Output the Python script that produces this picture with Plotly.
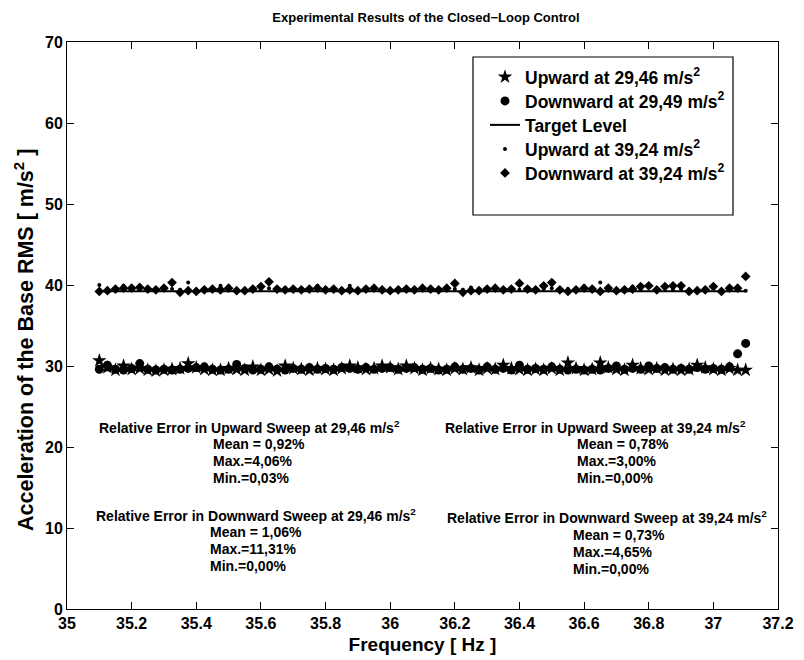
import plotly.graph_objects as go

# ---------------- data ----------------
freq = [35.100, 35.125, 35.150, 35.175, 35.200, 35.225, 35.250, 35.275, 35.300, 35.325,
        35.350, 35.375, 35.400, 35.425, 35.450, 35.475, 35.500, 35.525, 35.550, 35.575,
        35.600, 35.625, 35.650, 35.675, 35.700, 35.725, 35.750, 35.775, 35.800, 35.825,
        35.850, 35.875, 35.900, 35.925, 35.950, 35.975, 36.000, 36.025, 36.050, 36.075,
        36.100, 36.125, 36.150, 36.175, 36.200, 36.225, 36.250, 36.275, 36.300, 36.325,
        36.350, 36.375, 36.400, 36.425, 36.450, 36.475, 36.500, 36.525, 36.550, 36.575,
        36.600, 36.625, 36.650, 36.675, 36.700, 36.725, 36.750, 36.775, 36.800, 36.825,
        36.850, 36.875, 36.900, 36.925, 36.950, 36.975, 37.000, 37.025, 37.050, 37.075,
        37.100]

up_2946 = [30.66, 29.8, 29.5, 30.0, 29.6, 29.7, 29.5, 29.4, 29.5, 29.6,
           29.7, 30.3, 29.8, 29.6, 29.5, 29.5, 29.7, 29.6, 29.5, 29.9,
           29.5, 29.6, 29.4, 30.0, 29.7, 29.6, 29.5, 29.7, 29.6, 29.5,
           29.7, 30.0, 29.8, 29.6, 29.7, 30.0, 29.8, 29.6, 30.0, 29.7,
           29.5, 29.7, 29.6, 29.5, 29.7, 29.6, 29.8, 29.5, 29.7, 29.6,
           30.1, 29.7, 29.6, 29.5, 29.6, 29.5, 29.7, 29.5, 30.4, 29.7,
           29.5, 29.6, 30.4, 29.8, 29.6, 29.5, 30.1, 29.7, 29.6, 29.7,
           29.5, 29.6, 29.5, 29.6, 30.1, 29.8, 29.6, 29.5, 29.7, 29.5,
           29.5]

down_2949 = [29.6, 30.1, 29.6, 29.5, 29.7, 30.3, 29.6, 29.5, 29.6, 29.5,
             29.6, 29.7, 29.8, 29.9, 29.6, 29.5, 29.6, 30.2, 29.7, 29.5,
             29.6, 29.9, 29.6, 29.5, 29.7, 29.6, 29.8, 29.6, 29.7, 29.6,
             29.8, 29.7, 29.6, 29.8, 29.6, 29.7, 29.8, 29.6, 29.7, 29.8,
             29.6, 29.7, 29.5, 29.6, 29.9, 29.6, 29.7, 29.5, 29.9, 29.6,
             29.7, 29.5, 30.1, 29.6, 29.7, 29.6, 29.9, 29.6, 29.5, 29.6,
             29.5, 29.6, 29.5, 29.7, 30.0, 29.6, 29.7, 29.6, 30.0, 29.7,
             29.8, 29.6, 29.7, 29.6, 29.8, 29.6, 29.7, 29.6, 29.9, 31.5,
             32.79]

up_3924 = [40.0, 39.5, 39.4, 39.9, 39.4, 39.6, 39.4, 39.5, 39.4, 39.5,
           39.4, 40.3, 39.4, 39.5, 39.4, 39.9, 39.5, 39.4, 39.5, 39.4,
           39.5, 39.6, 39.4, 39.5, 39.4, 39.5, 39.4, 39.9, 39.5, 39.4,
           39.5, 39.9, 39.4, 39.5, 39.4, 39.5, 39.4, 39.5, 39.4, 39.5,
           39.4, 39.5, 39.4, 39.6, 39.5, 39.4, 39.7, 39.5, 39.4, 39.5,
           39.4, 39.5, 39.4, 39.5, 39.4, 39.5, 39.6, 39.4, 39.5, 39.4,
           39.5, 39.4, 40.3, 39.5, 39.4, 39.5, 39.8, 39.4, 39.8, 39.5,
           39.8, 39.4, 39.5, 39.4, 39.5, 39.4, 39.6, 39.4, 39.7, 39.5,
           39.3]

down_3924 = [39.2, 39.3, 39.5, 39.6, 39.6, 39.7, 39.5, 39.4, 39.6, 40.3,
             39.1, 39.3, 39.2, 39.4, 39.5, 39.4, 39.6, 39.3, 39.3, 39.5,
             39.8, 40.4, 39.5, 39.4, 39.5, 39.4, 39.5, 39.6, 39.4, 39.5,
             39.3, 39.4, 39.3, 39.5, 39.6, 39.4, 39.3, 39.4, 39.5, 39.4,
             39.6, 39.5, 39.4, 39.6, 40.2, 39.1, 39.3, 39.3, 39.5, 39.6,
             39.4, 39.5, 40.2, 39.5, 39.4, 39.9, 40.3, 39.4, 39.2, 39.4,
             39.6, 39.5, 39.2, 39.6, 39.3, 39.4, 39.5, 39.8, 39.9, 39.4,
             39.8, 39.9, 39.9, 39.2, 39.3, 39.4, 39.8, 39.2, 39.6, 39.6,
             41.06]

target_low = 29.46
target_high = 39.24
target_x = [35.1, 37.1]

x_ticks = [35, 35.2, 35.4, 35.6, 35.8, 36, 36.2, 36.4, 36.6, 36.8, 37, 37.2]
y_ticks = [0, 10, 20, 30, 40, 50, 60, 70]

legend_names = ["Upward at 29,46 m/s<sup>2</sup>", "Downward at 29,49 m/s<sup>2</sup>",
                "Target Level", "Upward at 39,24 m/s<sup>2</sup>", "Downward at 39,24 m/s<sup>2</sup>"]

stats_blocks = [
    ("Relative Error in Upward Sweep at 29,46 m/s<sup>2</sup>", ["Mean = 0,92%", "Max.=4,06%", "Min.=0,03%"]),
    ("Relative Error in Downward Sweep at 29,46 m/s<sup>2</sup>", ["Mean = 1,06%", "Max.=11,31%", "Min.=0,00%"]),
    ("Relative Error in Upward Sweep at 39,24 m/s<sup>2</sup>", ["Mean = 0,78%", "Max.=3,00%", "Min.=0,00%"]),
    ("Relative Error in Downward Sweep at 39,24 m/s<sup>2</sup>", ["Mean = 0,73%", "Max.=4,65%", "Min.=0,00%"]),
]

# ---------------- layout geometry ----------------
W, H = 804, 660
L, R, T, B = 67, 778, 42, 609
FONT = "Liberation Sans, Arial, sans-serif"


def px(xp):
    return (xp - L) / (R - L)


def py(yp):
    return (B - yp) / (B - T)


def bfont(size, family=FONT):
    return dict(family=family, size=size, color="black", weight="bold")


legend_ids = ["legend", "legend2", "legend3", "legend4", "legend5"]
legend_rows = [77, 101, 125, 149, 173]

fig = go.Figure()
fig.add_trace(go.Scatter(x=freq, y=up_2946, mode="markers", name=legend_names[0], legend=legend_ids[0],
                         marker=dict(symbol="star", size=11, color="black")))
fig.add_trace(go.Scatter(x=freq, y=down_2949, mode="markers", name=legend_names[1], legend=legend_ids[1],
                         marker=dict(symbol="circle", size=9, color="black")))
fig.add_trace(go.Scatter(x=target_x, y=[target_low, target_low], mode="lines", name=legend_names[2],
                         legend=legend_ids[2], line=dict(color="black", width=2)))
fig.add_trace(go.Scatter(x=target_x, y=[target_high, target_high], mode="lines", name=legend_names[2],
                         line=dict(color="black", width=2), showlegend=False))
fig.add_trace(go.Scatter(x=freq, y=up_3924, mode="markers", name=legend_names[3], legend=legend_ids[3],
                         marker=dict(symbol="circle", size=4, color="black")))
fig.add_trace(go.Scatter(x=freq, y=down_3924, mode="markers", name=legend_names[4], legend=legend_ids[4],
                         marker=dict(symbol="diamond", size=7.5, color="black")))

annotations = []
title_pos = [(249, 427), (256, 515), (595, 427), (607, 517)]
stats_pos = [(211, 444), (208, 532), (575, 444), (571, 535)]
for (head, lines), (hx, hy), (sx, sy) in zip(stats_blocks, title_pos, stats_pos):
    annotations.append(dict(text=head, x=px(hx), y=py(hy), xref="paper", yref="paper",
                            xanchor="center", yanchor="middle", showarrow=False,
                            font=bfont(14)))
    for k, ln in enumerate(lines):
        annotations.append(dict(text=ln, x=px(sx), y=py(sy + 17 * k), xref="paper", yref="paper",
                                xanchor="left", yanchor="middle", showarrow=False,
                                font=bfont(14)))

# y-axis title placed as a rotated text so it can be centred like the reference
annotations.append(dict(text="Acceleration of the Base RMS [ m/s<sup>2</sup> ]",
                        x=px(24), y=py(340), xref="paper", yref="paper", textangle=-90,
                        xanchor="center", yanchor="middle", showarrow=False, font=bfont(21.5)))

axis_common = dict(showline=True, linecolor="black", linewidth=1, mirror="ticks",
                   ticks="inside", ticklen=7, tickcolor="black", showgrid=False, zeroline=False,
                   tickfont=bfont(16))

legend_layout = {}
for lid, row in zip(legend_ids, legend_rows):
    legend_layout[lid] = dict(x=px(485), y=py(row), xanchor="left", yanchor="middle",
                              bgcolor="rgba(0,0,0,0)", borderwidth=0, itemwidth=30,
                              font=bfont(17.5))

fig.update_layout(
    width=W, height=H,
    margin=dict(l=L, r=W - R, t=T, b=H - B, autoexpand=False),
    paper_bgcolor="white", plot_bgcolor="white",
    title=dict(text="Experimental Results of the Closed\u2212Loop Control",
               x=px(426), xref="paper", xanchor="center",
               y=1 - 17 / H, yref="container", yanchor="middle",
               font=bfont(13)),
    xaxis=dict(range=[35, 37.2], tickvals=x_ticks, ticktext=[f"{v:g}" for v in x_ticks],
               title=dict(text="Frequency [ Hz ]", standoff=6, font=bfont(19)),
               **axis_common),
    yaxis=dict(range=[0, 70], tickvals=y_ticks, ticktext=[f"{v}" for v in y_ticks],
               **axis_common),
    showlegend=True,
    shapes=[dict(type="rect", xref="paper", yref="paper", x0=px(473), x1=px(733),
                 y0=py(215), y1=py(57), line=dict(color="black", width=1.2), fillcolor="white",
                 layer="below")],
    annotations=annotations,
    **legend_layout,
)

fig.write_html("out.html")
